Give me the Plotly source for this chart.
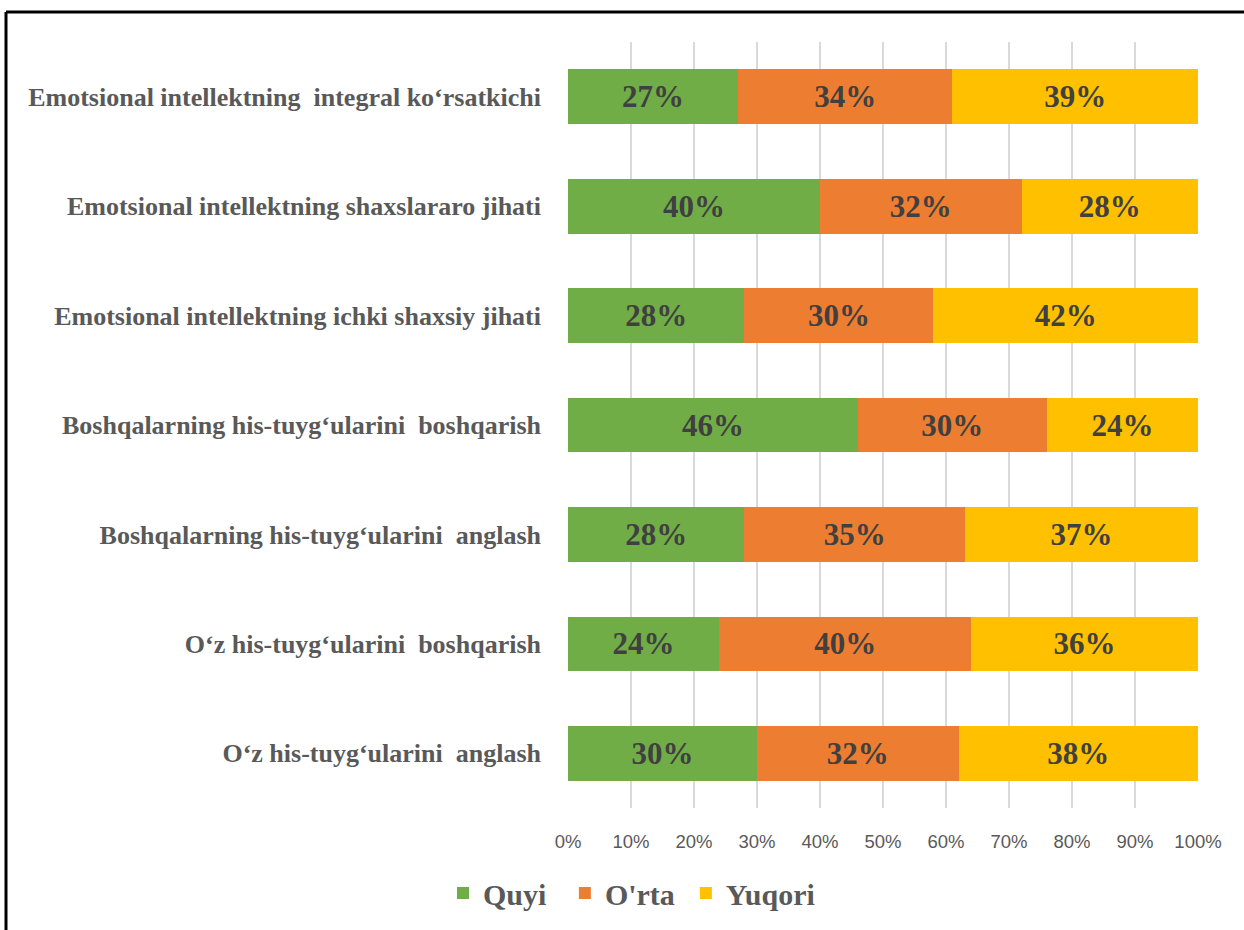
import plotly.graph_objects as go

categories = [
    "Emotsional intellektning  integral ko‘rsatkichi",
    "Emotsional intellektning shaxslararo jihati",
    "Emotsional intellektning ichki shaxsiy jihati",
    "Boshqalarning his-tuyg‘ularini  boshqarish",
    "Boshqalarning his-tuyg‘ularini  anglash",
    "O‘z his-tuyg‘ularini  boshqarish",
    "O‘z his-tuyg‘ularini  anglash",
]
quyi = [27, 40, 28, 46, 28, 24, 30]
orta = [34, 32, 30, 30, 35, 40, 32]
yuqori = [39, 28, 42, 24, 37, 36, 38]
series_names = ["Quyi", "O'rta", "Yuqori"]
legend_pad = ["\u00a0\u2009", "\u2009", ""]
colors = ["#70AD47", "#ED7D31", "#FFC000"]
xticks = [0, 10, 20, 30, 40, 50, 60, 70, 80, 90, 100]

W, H = 1244, 930
L, R, T, B = 568, 46, 42, 122
pw, ph = W - L - R, H - T - B

fig = go.Figure()
for name, pad, vals, col in zip(series_names, legend_pad, [quyi, orta, yuqori], colors):
    fig.add_trace(go.Bar(
        y=categories, x=vals, name=name + pad, orientation="h",
        marker=dict(color=col, line=dict(width=0)),
        text=[f"{v}%" for v in vals], textposition="inside",
        insidetextanchor="middle", constraintext="none",
        textfont=dict(family="Liberation Serif", size=31, color="#404040", weight="bold"),
        width=0.5,
    ))

fig.update_layout(
    barmode="stack", width=W, height=H,
    margin=dict(l=L, r=R, t=T, b=B, autoexpand=False),
    plot_bgcolor="white", paper_bgcolor="white",
    xaxis=dict(range=[0, 100], tickvals=xticks, ticktext=[f"{v}%" for v in xticks],
               showgrid=True, gridcolor="#D9D9D9", gridwidth=2, zeroline=False,
               showline=False, ticklabelstandoff=20,
               tickfont=dict(family="Liberation Sans", size=18.5, color="#595959")),
    yaxis=dict(autorange="reversed", showgrid=False, showline=False, ticks="",
               ticklabelstandoff=26,
               tickfont=dict(family="Liberation Serif", size=26, color="#595959", weight="bold")),
    showlegend=True,
    legend=dict(orientation="h", x=(443 - L) / pw, xanchor="left",
                y=(H - B - 893) / ph, yanchor="middle",
                font=dict(family="Liberation Serif", size=30, color="#595959", weight="bold"),
                itemwidth=30, traceorder="normal"),
    shapes=[
        dict(type="line", xref="paper", yref="paper",
             x0=(6 - L) / pw, x1=(W - L) / pw, y0=(H - B - 12) / ph, y1=(H - B - 12) / ph,
             line=dict(color="black", width=3)),
        dict(type="line", xref="paper", yref="paper",
             x0=(6 - L) / pw, x1=(6 - L) / pw, y0=(H - B - 12) / ph, y1=(H - B - H) / ph,
             line=dict(color="black", width=3)),
    ],
)

fig.write_html("out.html", config={"displayModeBar": False},
               post_script="document.body.style.margin='0';")
